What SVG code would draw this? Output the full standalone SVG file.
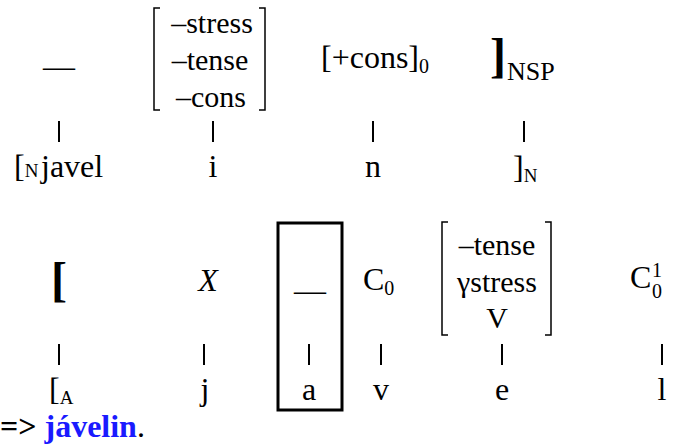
<svg xmlns="http://www.w3.org/2000/svg" width="681" height="447" viewBox="0 0 681 447">
<style>
text{font-family:'Liberation Serif','Times New Roman',serif;font-size:32px;fill:#000}
.m{text-anchor:middle}
.mx{font-size:30px}
.s{font-size:20px}
.sc{font-size:19px}
.big{font-size:48px;font-weight:bold}
.br{fill:none;stroke:#000;stroke-width:1.5}
.bar{stroke:#000;stroke-width:2}
.blue{fill:#1a1aff;font-weight:bold}
</style>
<rect width="681" height="447" fill="#fff"/>
<g id="connectors">
<line class="bar" x1="59" y1="121" x2="59" y2="142"/>
<line class="bar" x1="213" y1="121" x2="213" y2="142"/>
<line class="bar" x1="373" y1="121" x2="373" y2="142"/>
<line class="bar" x1="524" y1="121" x2="524" y2="142"/>
<line class="bar" x1="59" y1="344" x2="59" y2="365"/>
<line class="bar" x1="204" y1="344" x2="204" y2="365"/>
<line class="bar" x1="309" y1="344" x2="309" y2="365"/>
<line class="bar" x1="381" y1="344" x2="381" y2="365"/>
<line class="bar" x1="502" y1="344" x2="502" y2="365"/>
<line class="bar" x1="662" y1="344" x2="662" y2="365"/>
</g>
<g id="slot1"><text class="m" x="59" y="77">—</text></g>
<g id="matrix1">
<path class="br" d="M160,8 H154 V110 H160"/>
<path class="br" d="M259,8 H265 V110 H259"/>
<text class="m mx" x="212" y="33">–stress</text>
<text class="m mx" x="210" y="70">–tense</text>
<text class="m mx" x="211" y="107">–cons</text>
</g>
<g id="cons0"><text x="321" y="68">[+cons]<tspan class="s" y="73">0</tspan></text></g>
<g id="nsp"><text class="big" x="490" y="72">]</text><text x="507" y="80" style="font-size:26px">NSP</text></g>
<g id="javel"><text x="14" y="177">[<tspan class="sc" font-size="18">N</tspan><tspan x="41">javel</tspan></text></g>
<g id="i"><text class="m" x="213" y="177">i</text></g>
<g id="n"><text class="m" x="373" y="177">n</text></g>
<g id="rn"><text x="513" y="178">]<tspan class="sc" y="182">N</tspan></text></g>
<g id="lbr"><text class="big" x="51" y="296">[</text></g>
<g id="X"><text class="m" x="208" y="291" font-style="italic">X</text></g>
<g id="focus">
<rect x="278" y="223" width="64" height="187" fill="none" stroke="#000" stroke-width="3"/>
<text class="m" x="310" y="301">—</text>
<text class="m" x="309" y="400">a</text>
</g>
<g id="C0"><text x="363" y="290">C<tspan class="s" y="295">0</tspan></text></g>
<g id="matrix2">
<path class="br" d="M448,222 H442 V335 H448"/>
<path class="br" d="M545,222 H551 V335 H545"/>
<text class="m mx" x="497" y="255">–tense</text>
<text class="m mx" x="497" y="292">γstress</text>
<text class="m mx" x="497" y="328">V</text>
</g>
<g id="C01"><text x="630" y="288">C</text><text class="s" x="652" y="277">1</text><text class="s" x="652" y="298">0</text></g>
<g id="A"><text x="49" y="400">[<tspan class="sc" y="404">A</tspan></text></g>
<g id="j"><text class="m" x="205" y="400">j</text></g>
<g id="v"><text class="m" x="381" y="400">v</text></g>
<g id="e"><text class="m" x="502" y="400">e</text></g>
<g id="l"><text class="m" x="662" y="400">l</text></g>
<g id="result"><text x="0" y="437" font-weight="bold">=&gt; <tspan class="blue">jávelin</tspan><tspan font-weight="normal">.</tspan></text></g>
</svg>
